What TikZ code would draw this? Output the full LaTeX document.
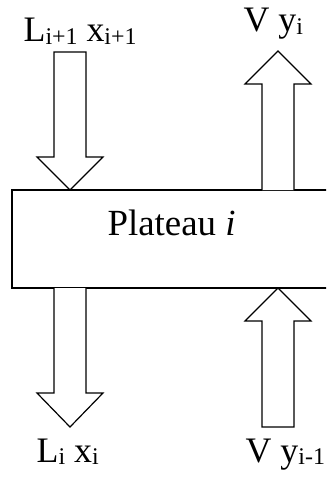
\documentclass[tikz,border=0pt]{standalone}
\usepackage{fontspec}
\setmainfont{Liberation Serif}
\newcommand\mysub[1]{\raisebox{-2.5bp}{\fontsize{24}{26}\selectfont #1}}
\begin{document}
\begin{tikzpicture}[x=1bp,y=-1bp,line width=1.2bp,line join=miter,
  flow/.style={draw=black,fill=white},
  lbl/.style={anchor=base west,inner sep=0pt,font=\fontsize{36}{38}\selectfont}]
\useasboundingbox (0,0) rectangle (326,481);
\clip (0,0) rectangle (326,481);
% plate
\draw[flow] (12,190) rectangle (340,288);
\node[lbl,font=\fontsize{37}{39}\selectfont] (plate) at (107,235) {Plateau \textit{i}};
% liquid in (down arrow, top)
\draw[flow] (54,52) -- (86,52) -- (86,157) -- (103,157) -- (70,190) -- (37,157) -- (54,157) -- cycle;
% vapour out (up arrow, top)
\draw[flow] (262,190) -- (262,84) -- (245,84) -- (278,51) -- (311,84) -- (294,84) -- (294,190);
% liquid out (down arrow, bottom)
\draw[flow] (54,288) -- (54,393) -- (37,393) -- (70,427) -- (103,393) -- (86,393) -- (86,288);
% vapour in (up arrow, bottom)
\draw[flow] (262,427) -- (262,321) -- (245,321) -- (278,288) -- (311,321) -- (294,321) -- (294,427) -- cycle;
% labels
\node[lbl] (lin) at (23,42) {L\mysub{i+1} x\mysub{i+1}};
\node[lbl] (vout) at (243,32) {V y\mysub{i}};
\node[lbl] (lout) at (36,462) {L\mysub{i} x\mysub{i}};
\node[lbl] (vin) at (245,462) {V y\mysub{i-1}};
\end{tikzpicture}
\end{document}
